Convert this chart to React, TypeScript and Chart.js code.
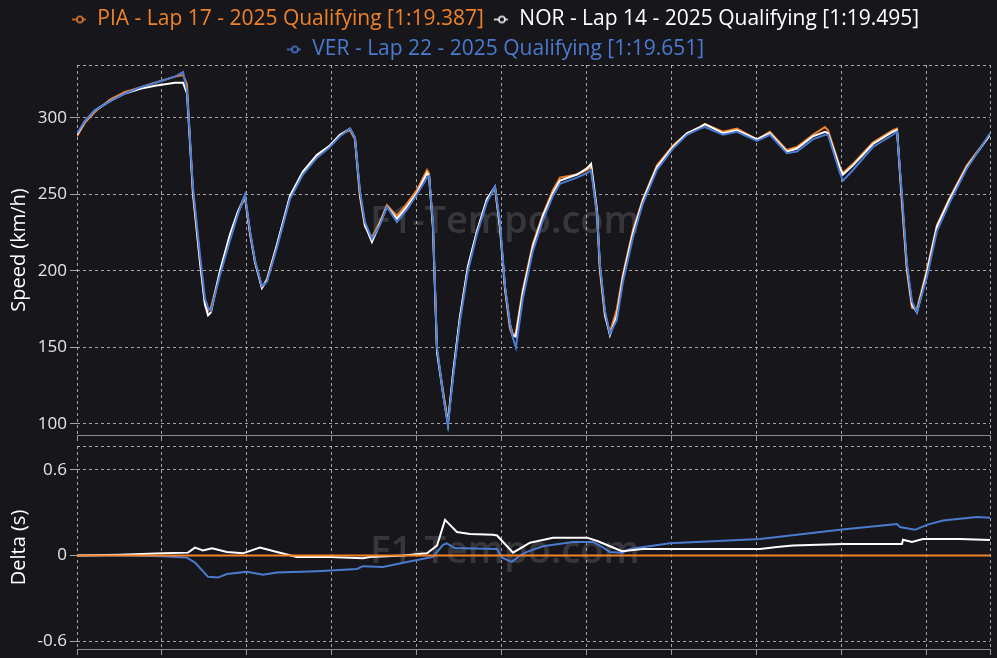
import { useEffect, useRef } from 'react';
import { Chart, registerables } from 'chart.js';

Chart.register(...registerables);

const BG = '#17161b';
const GRID = 'rgba(205,205,205,0.78)';
const FONT = '"Open Sans", "Noto Sans", sans-serif';

const LABELS = [
  'PIA - Lap 17 - 2025 Qualifying [1:19.387]',
  'NOR - Lap 14 - 2025 Qualifying [1:19.495]',
  'VER - Lap 22 - 2025 Qualifying [1:19.651]',
];
const COLORS = ['#f0822a', '#ffffff', '#4a7bd0'];

// distance along the lap (m)
const DIST = [
  0, 47, 106, 194, 282, 371, 459, 518, 576, 624,
  647, 682, 724, 753, 771, 788, 841, 900, 947, 988,
  1018, 1047, 1088, 1118, 1176, 1253, 1329, 1412, 1488, 1547,
  1606, 1635, 1665, 1694, 1735, 1782, 1823, 1882, 1941, 2000,
  2059, 2071, 2094, 2118, 2153, 2182, 2212, 2253, 2300, 2353,
  2412, 2459, 2488, 2518, 2547, 2565, 2582, 2623, 2682, 2741,
  2800, 2841, 2941, 3000, 3024, 3059, 3076, 3106, 3135, 3176,
  3212, 3271, 3329, 3412, 3506, 3588, 3665, 3694, 3800, 3882,
  4000, 4076, 4176, 4235, 4329, 4400, 4418, 4488, 4506, 4565,
  4682, 4800, 4824, 4853, 4882, 4912, 4941, 5000, 5059, 5135,
  5235, 5371,
];

const PIA_SPEED = [
  288, 297, 304, 312, 317, 320, 323, 325, 327, 328,
  322, 250, 205, 178, 174, 176, 199, 223, 238, 248,
  224, 206, 189, 195, 217, 248, 264, 275, 282, 289,
  292, 286, 248, 229, 222, 232, 243, 236, 244, 253,
  266, 264, 228, 148, 122, 101, 132, 170, 203, 226,
  247, 254, 229, 188, 162, 157, 160, 188, 218, 237,
  253, 261, 263, 266, 268, 236, 200, 170, 160, 175,
  198, 227, 247, 269, 282, 290, 294, 296, 291, 293,
  286, 291, 279, 281, 289, 294, 292, 268, 264, 270,
  284, 292, 293, 244, 200, 176, 175, 201, 230, 248,
  269, 289,
];

const NOR_SPEED = [
  289, 298, 305, 311, 316, 319, 321, 322, 323, 323,
  316, 252, 206, 178, 171, 173, 200, 224, 239, 249,
  225, 206, 189, 194, 217, 249, 265, 276, 282, 289,
  293, 287, 250, 230, 219, 231, 242, 234, 242, 251,
  264, 262, 229, 147, 120, 100, 133, 170, 203, 226,
  247, 255, 229, 189, 165, 158, 157, 186, 216, 236,
  251, 259, 263, 267, 270, 240, 203, 172, 158, 171,
  196, 225, 246, 268, 281, 290, 294, 296, 290, 292,
  286, 290, 278, 280, 288, 291, 290, 267, 263, 269,
  283, 291, 292, 247, 203, 178, 173, 199, 229, 247,
  268, 289,
];

const VER_SPEED = [
  290, 298, 305, 311, 316, 320, 323, 325, 327, 330,
  318, 255, 210, 182, 176, 174, 197, 220, 237, 250,
  226, 207, 190, 193, 215, 247, 263, 274, 281, 288,
  293, 287, 252, 232, 221, 230, 242, 232, 240, 250,
  261, 262, 232, 150, 120, 99, 130, 167, 200, 224,
  245, 255, 232, 190, 166, 156, 150, 182, 213, 233,
  249, 257, 261, 264, 266, 238, 205, 174, 159, 168,
  193, 222, 244, 266, 280, 289, 293, 294, 289, 291,
  285, 289, 277, 278, 286, 289, 289, 264, 259, 266,
  281, 289, 291, 250, 205, 180, 173, 196, 226, 245,
  267, 290,
];

// delta to PIA (s)
const PIA_DELTA_DIST = [0, 5371];
const PIA_DELTA = [0, 0];

const NOR_DELTA_DIST = [
  0, 253, 506, 653, 694, 741, 794, 882, 976, 1076,
  1176, 1294, 1488, 1682, 1723, 1918, 2059, 2118, 2165, 2194,
  2235, 2312, 2447, 2471, 2565, 2665, 2800, 3000, 3065, 3135,
  3206, 3329, 3624, 4018, 4118, 4212, 4506, 4853, 4859, 4912,
  4976, 5194, 5371,
];
const NOR_DELTA = [
  0, 0.005, 0.015, 0.02, 0.055, 0.035, 0.05, 0.025, 0.015, 0.055,
  0.025, -0.01, -0.01, -0.02, -0.01, 0, 0.015, 0.07, 0.25, 0.215,
  0.165, 0.15, 0.145, 0.14, 0.02, 0.09, 0.125, 0.125, 0.1, 0.065,
  0.03, 0.045, 0.045, 0.045, 0.06, 0.07, 0.08, 0.08, 0.11, 0.095,
  0.115, 0.115, 0.108,
];

const VER_DELTA_DIST = [
  0, 253, 500, 647, 694, 771, 829, 882, 1000, 1094,
  1176, 1412, 1647, 1682, 1800, 1941, 2094, 2153, 2176, 2223,
  2271, 2471, 2500, 2559, 2606, 2647, 2741, 2918, 3035, 3076,
  3135, 3206, 3253, 3488, 4018, 4488, 4824, 4841, 4929, 5000,
  5094, 5294, 5371,
];
const VER_DELTA = [
  0, 0.002, -0.005, -0.015, -0.05, -0.15, -0.155, -0.13, -0.115, -0.135,
  -0.12, -0.11, -0.095, -0.075, -0.08, -0.045, -0.01, 0.075, 0.085, 0.05,
  0.05, 0.045, -0.015, -0.045, 0, 0.025, 0.065, 0.095, 0.095, 0.07,
  0.025, 0.02, 0.045, 0.085, 0.115, 0.18, 0.22, 0.2, 0.18, 0.215,
  0.245, 0.27, 0.264,
];

const X_MAX = 5371;
const X_TICKS = [0, 500, 1000, 1500, 2000, 2500, 3000, 3500, 4000, 4500, 5000, 5371];
const SPEED_MIN = 92.8;
const SPEED_MAX = 334.6;
const SPEED_TICKS = [100, 150, 200, 250, 300];
const DELTA_MIN = -0.656;
const DELTA_MAX = 0.768;
const DELTA_TICKS = [-0.6, 0, 0.6];

const pts = (xs: number[], ys: number[]) => xs.map((x, i) => ({ x, y: ys[i] }));

function makeMarker(color: string) {
  const c = document.createElement('canvas');
  c.width = 16;
  c.height = 10;
  const g = c.getContext('2d')!;
  g.strokeStyle = color;
  g.lineWidth = 1.5;
  g.beginPath();
  g.moveTo(1, 5);
  g.lineTo(15, 5);
  g.stroke();
  g.beginPath();
  g.arc(9, 5, 3, 0, Math.PI * 2);
  g.fillStyle = BG;
  g.fill();
  g.stroke();
  return c;
}

const framePlugin = {
  id: 'frame',
  beforeDatasetsDraw(chart: any) {
    const { ctx, chartArea } = chart;
    ctx.save();
    ctx.strokeStyle = GRID;
    ctx.lineWidth = 1;
    ctx.setLineDash([3, 3]);
    ctx.beginPath();
    ctx.moveTo(chartArea.left, Math.round(chartArea.top) + 0.5);
    ctx.lineTo(chartArea.right, Math.round(chartArea.top) + 0.5);
    ctx.stroke();
    ctx.restore();
  },
};

const watermarkPlugin = {
  id: 'watermark',
  beforeDatasetsDraw(chart: any, _args: any, opts: any) {
    const { ctx } = chart;
    ctx.save();
    ctx.font = `600 38px ${FONT}`;
    ctx.fillStyle = 'rgba(255,255,255,0.14)';
    ctx.textAlign = 'center';
    ctx.textBaseline = 'middle';
    ctx.fillText('F1-Tempo.com', 505, opts.y);
    ctx.restore();
  },
};

function xScale() {
  return {
    type: 'linear' as const,
    min: 0,
    max: X_MAX,
    afterBuildTicks: (axis: any) => {
      axis.ticks = X_TICKS.map((v) => ({ value: v }));
    },
    ticks: { display: false },
    grid: {
      color: GRID,
      lineWidth: 1,
      tickLength: 6,
      tickColor: 'rgba(170,170,170,0.9)',
      tickBorderDash: [],
      borderDash: [3, 3],
    },
    border: { display: true, color: '#8a8a8a', width: 1, dash: [3, 3] },
  };
}

function yScale(min: number, max: number, ticks: number[], title: string) {
  return {
    type: 'linear' as const,
    min,
    max,
    afterBuildTicks: (axis: any) => {
      axis.ticks = ticks.map((v) => ({ value: v }));
    },
    afterFit: (scale: any) => {
      scale.width = 77;
      scale.paddingTop = 0;
      scale.paddingBottom = 0;
    },
    ticks: {
      color: '#e6e6e6',
      font: { size: 17, family: FONT },
      padding: 3,
      callback: (v: any) => String(v),
    },
    grid: {
      color: GRID,
      lineWidth: 1,
      tickLength: 7,
      borderDash: [3, 3],
    },
    border: { display: false, dash: [3, 3] },
    title: {
      display: true,
      text: title,
      color: '#ffffff',
      font: { size: 20, family: FONT },
      padding: { top: 7, bottom: 0 },
    },
  };
}

export default function App() {
  const speedRef = useRef<HTMLCanvasElement>(null);
  const deltaRef = useRef<HTMLCanvasElement>(null);

  useEffect(() => {
    document.body.style.margin = '0';
    document.body.style.background = BG;
    Chart.defaults.font.family = FONT;

    const markers = COLORS.map(makeMarker);
    const speedSeries = [PIA_SPEED, NOR_SPEED, VER_SPEED];
    const speedChart = new Chart(speedRef.current!, {
      type: 'line',
      data: {
        datasets: speedSeries.map((s, i) => ({
          label: LABELS[i],
          data: pts(DIST, s),
          borderColor: COLORS[i],
          backgroundColor: COLORS[i],
          borderWidth: 2,
          pointRadius: 0,
          tension: 0,
          order: 3 - i,
        })),
      },
      options: {
        animation: false,
        responsive: false,
        parsing: false as any,
        layout: { padding: { left: 0, right: 7, top: 0, bottom: 2 } },
        scales: {
          x: xScale() as any,
          y: yScale(SPEED_MIN, SPEED_MAX, SPEED_TICKS, 'Speed (km/h)') as any,
        },
        plugins: {
          tooltip: { enabled: false },
          legend: {
            display: true,
            position: 'top',
            maxHeight: 65,
            labels: {
              usePointStyle: true,
              pointStyleWidth: 16,
              boxHeight: 10,
              padding: 9,
              font: { size: 21, family: FONT },
              generateLabels: (chart: any) =>
                chart.data.datasets.map((ds: any, i: number) => ({
                  text: ds.label,
                  fontColor: COLORS[i],
                  strokeStyle: COLORS[i],
                  fillStyle: BG,
                  lineWidth: 1.5,
                  pointStyle: markers[i],
                  hidden: false,
                  datasetIndex: i,
                })),
            },
          },
          watermark: { y: 222 },
        } as any,
      },
      plugins: [framePlugin, watermarkPlugin],
    });

    const deltaChart = new Chart(deltaRef.current!, {
      type: 'line',
      data: {
        datasets: [
          { label: LABELS[0], data: pts(PIA_DELTA_DIST, PIA_DELTA), borderColor: COLORS[0] },
          { label: LABELS[1], data: pts(NOR_DELTA_DIST, NOR_DELTA), borderColor: COLORS[1] },
          { label: LABELS[2], data: pts(VER_DELTA_DIST, VER_DELTA), borderColor: COLORS[2] },
        ].map((d) => ({ ...d, borderWidth: 2, pointRadius: 0, tension: 0 })),
      },
      options: {
        animation: false,
        responsive: false,
        parsing: false as any,
        layout: { padding: { left: 0, right: 7, top: 3, bottom: 3 } },
        scales: {
          x: xScale() as any,
          y: yScale(DELTA_MIN, DELTA_MAX, DELTA_TICKS, 'Delta (s)') as any,
        },
        plugins: {
          tooltip: { enabled: false },
          legend: { display: false },
          watermark: { y: 552 - 443 },
        } as any,
      },
      plugins: [framePlugin, watermarkPlugin],
    });

    return () => {
      speedChart.destroy();
      deltaChart.destroy();
    };
  }, []);

  return (
    <div style={{ position: 'relative', width: 997, height: 658, background: BG, overflow: 'hidden' }}>
      <canvas ref={speedRef} width={997} height={443} style={{ position: 'absolute', left: 0, top: 0, display: 'block' }} />
      <canvas ref={deltaRef} width={997} height={215} style={{ position: 'absolute', left: 0, top: 443, display: 'block' }} />
    </div>
  );
}
